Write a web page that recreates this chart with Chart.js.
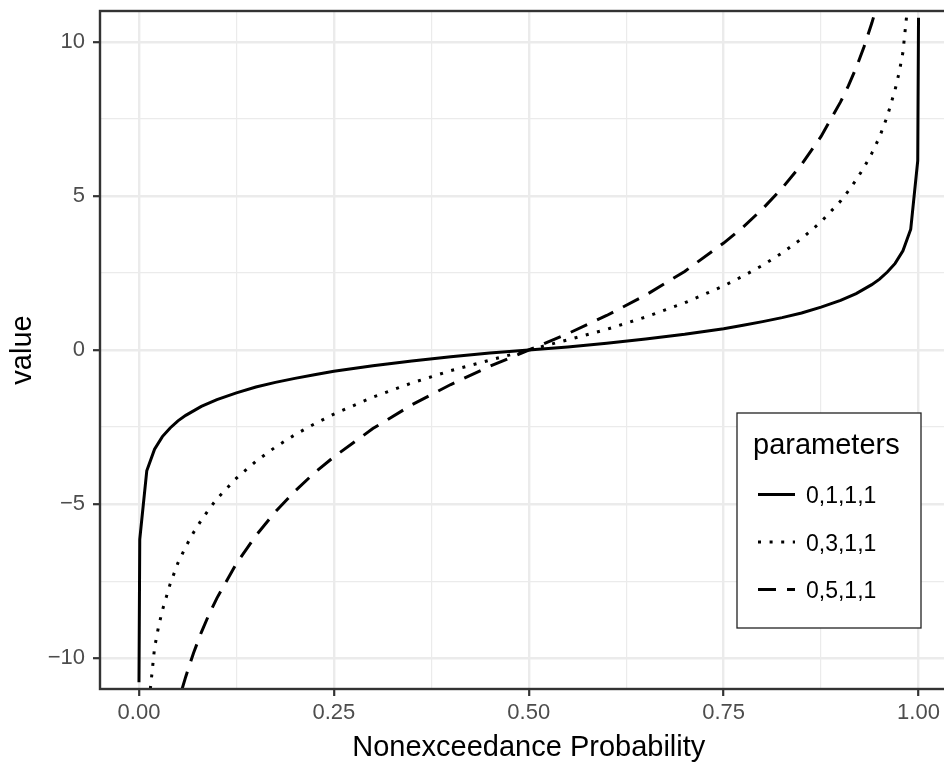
<!DOCTYPE html>
<html>
<head>
<meta charset="utf-8">
<title>Quantile curves</title>
<script src="https://cdn.jsdelivr.net/npm/chart.js@4"></script>
<style>
    html, body { margin: 0; padding: 0; background: #ffffff; overflow: hidden; }
    #chart { display: block; }
</style>
</head>
<body>
<!-- panel runs a bit past the right edge of the window, like the cropped original -->
<canvas id="chart" width="980" height="763"></canvas>
<script>
/* Data */
const seriesLabels = ["0,1,1,1", "0,3,1,1", "0,5,1,1"];

const solidProb = [0.00001, 0.001, 0.01, 0.02, 0.03, 0.04, 0.05, 0.06, 0.08, 0.10, 0.125, 0.15, 0.175, 0.20, 0.225, 0.25, 0.30, 0.35, 0.40, 0.45, 0.50,
    0.55, 0.60, 0.65, 0.70, 0.75, 0.775, 0.80, 0.825, 0.85, 0.875, 0.90, 0.92, 0.94, 0.95, 0.96, 0.97, 0.98, 0.99, 0.999, 0.99999];
const solidValue = [-10.78, -6.14, -3.92, -3.22, -2.81, -2.53, -2.30, -2.12, -1.83, -1.61, -1.39, -1.20, -1.05, -0.92, -0.80, -0.69, -0.51, -0.36, -0.22, -0.10, 0,
    0.10, 0.22, 0.36, 0.51, 0.69, 0.80, 0.92, 1.05, 1.20, 1.39, 1.61, 1.83, 2.12, 2.30, 2.53, 2.81, 3.22, 3.92, 6.14, 10.78];

const dottedProb = [0.0146, 0.02, 0.025, 0.03, 0.04, 0.05, 0.06, 0.07, 0.08, 0.09, 0.10, 0.125, 0.15, 0.175, 0.20, 0.225, 0.25, 0.30, 0.35, 0.40, 0.45, 0.50,
    0.55, 0.60, 0.65, 0.70, 0.75, 0.775, 0.80, 0.825, 0.85, 0.875, 0.90, 0.91, 0.92, 0.93, 0.94, 0.95, 0.96, 0.97, 0.975, 0.98, 0.9854];
const dottedValue = [-11.0, -9.66, -8.99, -8.45, -7.59, -6.91, -6.38, -5.92, -5.52, -5.16, -4.83, -4.16, -3.61, -3.15, -2.75, -2.40, -2.08, -1.53, -1.07, -0.67, -0.33, 0,
    0.33, 0.67, 1.07, 1.53, 2.08, 2.40, 2.75, 3.15, 3.61, 4.16, 4.83, 5.16, 5.52, 5.92, 6.38, 6.91, 7.59, 8.45, 8.99, 9.66, 11.0];

const dashedProb = [0.0553, 0.06, 0.07, 0.08, 0.09, 0.10, 0.125, 0.15, 0.175, 0.20, 0.225, 0.25, 0.30, 0.35, 0.40, 0.45, 0.50,
    0.55, 0.60, 0.65, 0.70, 0.75, 0.775, 0.80, 0.825, 0.85, 0.875, 0.90, 0.91, 0.92, 0.93, 0.94, 0.9447];
const dashedValue = [-11.0, -10.6, -9.83, -9.16, -8.57, -8.05, -6.93, -6.02, -5.25, -4.58, -3.99, -3.47, -2.55, -1.78, -1.12, -0.53, 0,
    0.53, 1.12, 1.78, 2.55, 3.47, 3.99, 4.58, 5.25, 6.02, 6.93, 8.05, 8.57, 9.16, 9.83, 10.6, 11.0];

/* Axes */
const xMajorTicks = [0, 0.25, 0.5, 0.75, 1];
const xTickLabels = ["0.00", "0.25", "0.50", "0.75", "1.00"];
const xMinorTicks = [0.125, 0.375, 0.625, 0.875];
const yMajorTicks = [-10, -5, 0, 5, 10];
const yTickLabels = ["\u221210", "\u22125", "0", "5", "10"];
const yMinorTicks = [-7.5, -2.5, 2.5, 7.5];

const FONT = "'Liberation Sans', Arial, Helvetica, sans-serif";

function toPoints(xs, ys) {
    return xs.map((x, i) => ({ x: x, y: ys[i] }));
}

function gridSetup(majors) {
    const isMajor = (ctx) => ctx.tick && majors.includes(ctx.tick.value);
    return {
        color: "#EBEBEB",
        lineWidth: (ctx) => isMajor(ctx) ? 2.4 : 1.2,
        drawTicks: true,
        tickLength: 7,
        tickColor: (ctx) => isMajor(ctx) ? "#333333" : "rgba(0,0,0,0)",
        tickWidth: 2.2
    };
}

// ggplot-like panel border, drawn over the lines
const panelBorder = {
    id: "panelBorder",
    afterDatasetsDraw(chart) {
        const a = chart.chartArea;
        const ctx = chart.ctx;
        ctx.save();
        ctx.strokeStyle = "#333333";
        ctx.lineWidth = 2.4;
        ctx.strokeRect(a.left, a.top, a.right - a.left, a.bottom - a.top);
        ctx.restore();
    }
};

// legend box inside the panel, bottom right
const insideLegend = {
    id: "insideLegend",
    afterDraw(chart) {
        const ctx = chart.ctx;
        ctx.save();
        ctx.fillStyle = "#ffffff";
        ctx.fillRect(737, 413, 184, 215);
        ctx.strokeStyle = "#222222";
        ctx.lineWidth = 1.3;
        ctx.strokeRect(737, 413, 184, 215);

        ctx.fillStyle = "#000000";
        ctx.font = "29px " + FONT;
        ctx.textBaseline = "alphabetic";
        ctx.textAlign = "left";
        ctx.fillText("parameters", 753, 454);

        chart.data.datasets.forEach((ds, i) => {
            const y = 494.5 + i * 47.5;
            ctx.beginPath();
            ctx.setLineDash(ds.borderDash || []);
            ctx.lineCap = "butt";
            ctx.lineWidth = ds.borderWidth;
            ctx.strokeStyle = ds.borderColor;
            ctx.moveTo(758, y);
            ctx.lineTo(795, y);
            ctx.stroke();
            ctx.setLineDash([]);
            ctx.fillStyle = "#000000";
            ctx.font = "23px " + FONT;
            ctx.fillText(ds.label, 806, y + 8.5);
        });
        ctx.restore();
    }
};

const lineStyle = { borderColor: "#000000", borderWidth: 3, pointRadius: 0, fill: false, tension: 0, borderCapStyle: "butt" };

new Chart(document.getElementById("chart"), {
    type: "line",
    data: {
        datasets: [
            Object.assign({ label: seriesLabels[0], data: toPoints(solidProb, solidValue), borderDash: [] }, lineStyle),
            Object.assign({ label: seriesLabels[1], data: toPoints(dottedProb, dottedValue), borderDash: [3, 8.6] }, lineStyle),
            Object.assign({ label: seriesLabels[2], data: toPoints(dashedProb, dashedValue), borderDash: [18, 11] }, lineStyle)
        ]
    },
    options: {
        responsive: false,
        devicePixelRatio: 1,
        animation: false,
        layout: { padding: { top: 11, right: 22.5, bottom: 0, left: 0 } },
        plugins: {
            legend: { display: false },
            tooltip: { enabled: false }
        },
        scales: {
            x: {
                type: "linear",
                min: -0.05,
                max: 1.05,
                afterBuildTicks: (scale) => {
                    scale.ticks = xMajorTicks.concat(xMinorTicks).sort((a, b) => a - b).map(v => ({ value: v }));
                },
                afterFit: (scale) => {
                    scale.height = 74;
                    scale.paddingLeft = 0;
                    scale.paddingRight = 0;
                },
                grid: gridSetup(xMajorTicks),
                border: { display: false },
                ticks: {
                    autoSkip: false,
                    maxRotation: 0,
                    padding: 4,
                    color: "#4D4D4D",
                    font: { family: FONT, size: 22 },
                    callback: (value) => {
                        const i = xMajorTicks.indexOf(value);
                        return i >= 0 ? xTickLabels[i] : "";
                    }
                },
                title: {
                    display: true,
                    text: "Nonexceedance Probability",
                    color: "#000000",
                    font: { family: FONT, size: 29, lineHeight: 1 },
                    padding: { top: 0, bottom: 1 }
                }
            },
            y: {
                min: -11,
                max: 11,
                afterBuildTicks: (scale) => {
                    scale.ticks = yMajorTicks.concat(yMinorTicks).sort((a, b) => a - b).map(v => ({ value: v }));
                },
                afterFit: (scale) => {
                    scale.width = 100;
                    scale.paddingTop = 0;
                    scale.paddingBottom = 0;
                },
                grid: gridSetup(yMajorTicks),
                border: { display: false },
                ticks: {
                    autoSkip: false,
                    padding: 8,
                    color: "#4D4D4D",
                    font: { family: FONT, size: 22 },
                    callback: (value) => {
                        const i = yMajorTicks.indexOf(value);
                        return i >= 0 ? yTickLabels[i] : "";
                    }
                },
                title: {
                    display: true,
                    text: "value",
                    color: "#000000",
                    font: { family: FONT, size: 29, lineHeight: 1 },
                    padding: { top: 8, bottom: 0 }
                }
            }
        }
    },
    plugins: [panelBorder, insideLegend]
});
</script>
</body>
</html>
